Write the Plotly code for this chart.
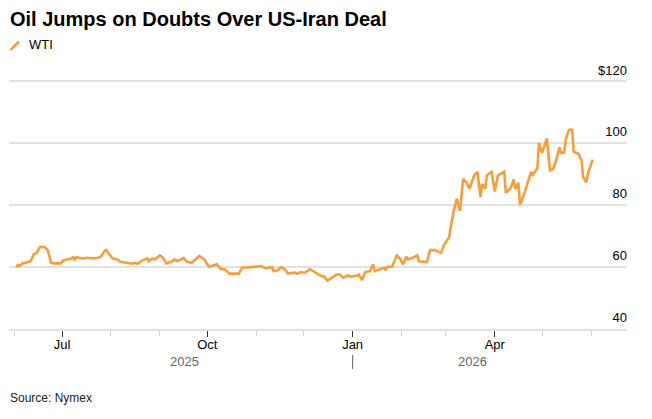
import plotly.graph_objects as go
import pandas as pd

# ---- data ----
dates = [
    "2025-06-02", "2025-06-03", "2025-06-04", "2025-06-06", "2025-06-09", "2025-06-11",
    "2025-06-12", "2025-06-13", "2025-06-15", "2025-06-16", "2025-06-17", "2025-06-20",
    "2025-06-22", "2025-06-23", "2025-06-24", "2025-06-26", "2025-06-30", "2025-07-02",
    "2025-07-07", "2025-07-08", "2025-07-09", "2025-07-10", "2025-07-14", "2025-07-17",
    "2025-07-21", "2025-07-24", "2025-07-26", "2025-07-28", "2025-07-29", "2025-07-31",
    "2025-08-02", "2025-08-05", "2025-08-07", "2025-08-11", "2025-08-14", "2025-08-16",
    "2025-08-18", "2025-08-21", "2025-08-24", "2025-08-25", "2025-08-27", "2025-08-29",
    "2025-09-01", "2025-09-03", "2025-09-05", "2025-09-09", "2025-09-10", "2025-09-12",
    "2025-09-16", "2025-09-18", "2025-09-21", "2025-09-26", "2025-09-29", "2025-10-02",
    "2025-10-05", "2025-10-07", "2025-10-09", "2025-10-10", "2025-10-12", "2025-10-15",
    "2025-10-19", "2025-10-21", "2025-10-23", "2025-10-27", "2025-10-29", "2025-11-04",
    "2025-11-07", "2025-11-11", "2025-11-12", "2025-11-14", "2025-11-17", "2025-11-19",
    "2025-11-21", "2025-11-25", "2025-11-27", "2025-11-29", "2025-12-02", "2025-12-05",
    "2025-12-08", "2025-12-11", "2025-12-14", "2025-12-16", "2025-12-19", "2025-12-22",
    "2025-12-24", "2025-12-26", "2025-12-29", "2025-12-31", "2026-01-04", "2026-01-05",
    "2026-01-07", "2026-01-09", "2026-01-12", "2026-01-14", "2026-01-15", "2026-01-19",
    "2026-01-21", "2026-01-22", "2026-01-23", "2026-01-26", "2026-01-29", "2026-01-31",
    "2026-02-02", "2026-02-04", "2026-02-05", "2026-02-08", "2026-02-11", "2026-02-12",
    "2026-02-17", "2026-02-19", "2026-02-22", "2026-02-26", "2026-02-28", "2026-03-03",
    "2026-03-04", "2026-03-06", "2026-03-08", "2026-03-10", "2026-03-12", "2026-03-14",
    "2026-03-16", "2026-03-19", "2026-03-21", "2026-03-23", "2026-03-24", "2026-03-26",
    "2026-03-27", "2026-03-29", "2026-03-30", "2026-04-01", "2026-04-03", "2026-04-07",
    "2026-04-08", "2026-04-11", "2026-04-13", "2026-04-14", "2026-04-16", "2026-04-17",
    "2026-04-20", "2026-04-24", "2026-04-25", "2026-04-28", "2026-04-29", "2026-05-01",
    "2026-05-04", "2026-05-06", "2026-05-08", "2026-05-10", "2026-05-12", "2026-05-13",
    "2026-05-15", "2026-05-16", "2026-05-18", "2026-05-20", "2026-05-21", "2026-05-24",
    "2026-05-26", "2026-05-27", "2026-05-29", "2026-05-30", "2026-06-02",
]
wti = [
    60.0, 60.6, 60.2, 61.1, 61.5, 61.8,
    62.7, 64.0, 64.5, 65.6, 66.4, 66.4,
    65.3, 63.5, 61.3, 61.1, 61.1, 62.1,
    62.7, 63.1, 62.3, 63.1, 62.7, 62.9,
    62.7, 62.9, 63.5, 65.1, 65.4, 64.0,
    62.7, 62.4, 61.6, 61.3, 61.0, 61.3,
    61.0, 62.1, 62.7, 61.8, 62.6, 62.4,
    63.7, 62.9, 61.1, 61.8, 62.4, 61.8,
    62.9, 61.6, 61.3, 63.5, 62.4, 60.0,
    60.6, 60.8, 59.5, 59.2, 59.2, 57.8,
    57.8, 57.8, 59.7, 59.7, 59.9, 60.2,
    59.5, 59.9, 58.6, 58.8, 59.9, 59.2,
    57.8, 58.1, 57.8, 58.3, 58.1, 59.2,
    58.1, 57.3, 56.8, 55.6, 56.5, 57.5,
    57.5, 56.5, 57.2, 56.8, 57.2, 57.5,
    55.7, 58.3, 58.6, 60.8, 58.6, 59.2,
    59.7, 58.9, 60.0, 60.0, 63.7, 62.6,
    60.8, 63.3, 62.4, 62.9, 63.7, 61.8,
    61.5, 65.4, 65.4, 64.5, 67.2, 69.4,
    72.6, 78.0, 82.0, 78.1, 88.4, 87.3,
    85.2, 89.5, 90.7, 82.5, 86.8, 85.2,
    89.5, 90.5, 90.7, 84.3, 89.5, 90.7,
    83.9, 85.4, 88.2, 85.2, 87.1, 80.0,
    84.1, 90.7, 89.7, 91.8, 100.0, 96.8,
    101.5, 91.1, 91.6, 94.6, 98.6, 96.8,
    97.0, 101.3, 104.3, 104.3, 97.2, 96.5,
    94.3, 88.9, 87.3, 90.0, 94.6,
]
y_ticks = [40, 60, 80, 100, 120]
y_tick_text = ["40", "60", "80", "100", "$120"]
x_ticks = ["2025-07-01", "2025-10-01", "2026-01-01", "2026-04-01"]
x_tick_text = ["Jul", "Oct", "Jan", "Apr"]
years = ["2025", "2026"]
year_split = "2026-01-01"

# ---- layout geometry ----
W, H = 652, 419
ML, MR, MT, MB = 9, 25, 60, 90
PW, PH = W - ML - MR, H - MT - MB
PX_PER_UNIT = 3.095
Y_MIN = 39.9
Y_MAX = Y_MIN + PH / PX_PER_UNIT
FONT = "Liberation Sans, Arial, sans-serif"
ORANGE = "#f99e36"
GRID = "#e2e2e2"


def px_x(px):
    return (px - ML) / PW


def px_y(py):
    return (H - MB - py) / PH


fig = go.Figure()
fig.add_trace(go.Scatter(
    x=dates, y=wti, mode="lines", name="WTI",
    line=dict(color=ORANGE, width=2.6), showlegend=False,
))

d0 = pd.Timestamp(dates[0])
d1 = pd.Timestamp(dates[-1])
split = pd.Timestamp(year_split)
mid_2025 = d0 + (split - d0) / 2
mid_2026 = split + (d1 - split) / 2

annotations = [
    dict(text="Oil Jumps on Doubts Over US-Iran Deal", xref="paper", yref="paper",
         x=px_x(8), y=px_y(19), xanchor="left", yanchor="middle", showarrow=False,
         font=dict(family=FONT, size=20, color="#000000", weight="bold")),
    dict(text="WTI", xref="paper", yref="paper", x=px_x(27), y=px_y(45),
         xanchor="left", yanchor="middle", showarrow=False,
         font=dict(family=FONT, size=13, color="#000000")),
    dict(text=years[0], xref="x", yref="paper", x=mid_2025, y=px_y(361),
         xanchor="center", yanchor="middle", showarrow=False,
         font=dict(family=FONT, size=13, color="#666666")),
    dict(text=years[1], xref="x", yref="paper", x=mid_2026, y=px_y(361),
         xanchor="center", yanchor="middle", showarrow=False,
         font=dict(family=FONT, size=13, color="#666666")),
    dict(text="Source: Nymex", xref="paper", yref="paper", x=px_x(8), y=px_y(398),
         xanchor="left", yanchor="middle", showarrow=False,
         font=dict(family=FONT, size=12, color="#222222")),
]

shapes = [
    dict(type="line", xref="paper", yref="paper", x0=px_x(10.5), y0=px_y(50),
         x1=px_x(19), y1=px_y(41.5), line=dict(color=ORANGE, width=2.5)),
    dict(type="line", xref="x", yref="paper", x0=year_split, x1=year_split,
         y0=px_y(355), y1=px_y(369), line=dict(color="#666666", width=1)),
]

fig.update_layout(
    width=W, height=H,
    margin=dict(l=ML, r=MR, t=MT, b=MB),
    paper_bgcolor="white", plot_bgcolor="white",
    font=dict(family=FONT, size=13, color="#000000"),
    annotations=annotations, shapes=shapes,
    xaxis=dict(
        type="date", range=["2025-05-28 10:00", "2026-06-23 18:00"],
        tickmode="array", tickvals=x_ticks, ticktext=x_tick_text,
        ticks="outside", ticklen=6, tickcolor="#333333", tickwidth=1,
        showgrid=False, zeroline=False,
        showline=True, linecolor=GRID, linewidth=2,
        ticklabelstandoff=-4,
        tickfont=dict(family=FONT, size=13, color="#000000"),
        minor=dict(dtick="M1", tick0="2025-01-01", ticks="outside", ticklen=5,
                   tickcolor="#d4d4d4", tickwidth=1, showgrid=False),
    ),
    yaxis=dict(
        side="right", range=[Y_MIN, Y_MAX],
        tickmode="array", tickvals=y_ticks, ticktext=y_tick_text,
        ticklabelposition="inside top", ticks="",
        ticklabelstandoff=-3, ticklabelshift=-2,
        showgrid=True, gridcolor=GRID, gridwidth=2,
        zeroline=False, showline=False,
        tickfont=dict(family=FONT, size=13, color="#000000"),
    ),
)

fig.write_html("out.html")
